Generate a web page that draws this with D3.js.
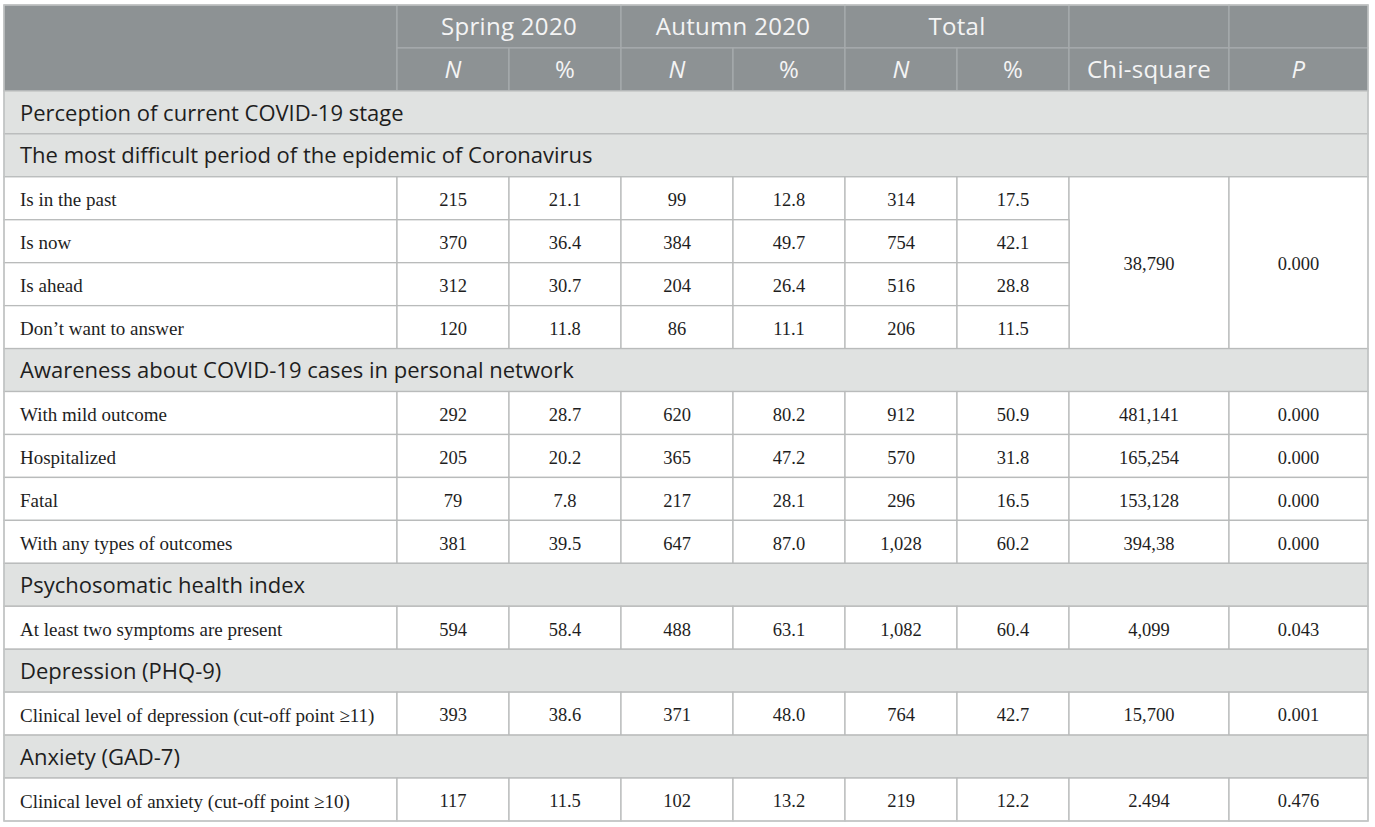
<!DOCTYPE html>
<html>
<head>
<meta charset="utf-8">
<script src="https://cdn.jsdelivr.net/npm/d3@7"></script>
<style>
  body { margin: 0; background: #fff; }
  svg { display: block; }
</style>
</head>
<body>
<div id="table"></div>
<script>
// column groups and sub headers
var groupHeaders = ["Spring 2020", "Autumn 2020", "Total"];
var subHeaders = ["N", "%", "N", "%", "N", "%", "Chi-square", "P"];

// section titles and how many data rows follow each one
var sectionTitles = [
    "Perception of current COVID-19 stage",
    "The most difficult period of the epidemic of Coronavirus",
    "Awareness about COVID-19 cases in personal network",
    "Psychosomatic health index",
    "Depression (PHQ-9)",
    "Anxiety (GAD-7)"
];
var sectionRowCounts = [0, 4, 4, 1, 1, 1];

var rowLabels = [
    "Is in the past", "Is now", "Is ahead", "Don\u2019t want to answer",
    "With mild outcome", "Hospitalized", "Fatal", "With any types of outcomes",
    "At least two symptoms are present",
    "Clinical level of depression (cut-off point \u226511)",
    "Clinical level of anxiety (cut-off point \u226510)"
];
var springN   = ["215", "370", "312", "120", "292", "205", "79", "381", "594", "393", "117"];
var springPct = ["21.1", "36.4", "30.7", "11.8", "28.7", "20.2", "7.8", "39.5", "58.4", "38.6", "11.5"];
var autumnN   = ["99", "384", "204", "86", "620", "365", "217", "647", "488", "371", "102"];
var autumnPct = ["12.8", "49.7", "26.4", "11.1", "80.2", "47.2", "28.1", "87.0", "63.1", "48.0", "13.2"];
var totalN    = ["314", "754", "516", "206", "912", "570", "296", "1,028", "1,082", "764", "219"];
var totalPct  = ["17.5", "42.1", "28.8", "11.5", "50.9", "31.8", "16.5", "60.2", "60.4", "42.7", "12.2"];
// chi-square and p: first value covers the four rows of its block
var chiSquare = ["38,790", null, null, null, "481,141", "165,254", "153,128", "394,38", "4,099", "15,700", "2.494"];
var pValues   = ["0.000", null, null, null, "0.000", "0.000", "0.000", "0.000", "0.043", "0.001", "0.476"];
var testSpan  = [4, 0, 0, 0, 1, 1, 1, 1, 1, 1, 1];

var W = 1375, H = 827;
var colWidths = [393, 112, 112, 112, 112, 112, 112, 160, 139];
var tableLeft = 4, tableTop = 5, tableBottom = 821;

var colEdges = [tableLeft].concat(Array.from(d3.cumsum(colWidths), function(d) { return tableLeft + d; }));
var nRows = 2 + sectionTitles.length + d3.sum(sectionRowCounts);
var y = d3.scaleLinear().domain([0, nRows]).range([tableTop, tableBottom]);

var headBg = "#8d9294", headLine = "#a7abad", headText = "#f4f4f4";
var secBg = "#e0e2e1", bodyLine = "#b9bbbb", bodyText = "#1e1e1e";

var svg = d3.select("#table").append("svg")
    .attr("width", W)
    .attr("height", H);

// build cell list
var cells = [];
// header row 1
cells.push({c0: 0, c1: 1, r0: 0, r1: 2, kind: "head", text: ""});
groupHeaders.forEach(function(g, i) {
    cells.push({c0: 1 + i * 2, c1: 3 + i * 2, r0: 0, r1: 1, kind: "head", text: g});
});
cells.push({c0: 7, c1: 8, r0: 0, r1: 1, kind: "head", text: ""});
cells.push({c0: 8, c1: 9, r0: 0, r1: 1, kind: "head", text: ""});
// header row 2
subHeaders.forEach(function(s, i) {
    cells.push({c0: 1 + i, c1: 2 + i, r0: 1, r1: 2, kind: "head", text: s,
        italic: (s === "N" || s === "P")});
});

var r = 2, di = 0;
sectionTitles.forEach(function(t, si) {
    cells.push({c0: 0, c1: 9, r0: r, r1: r + 1, kind: "sec", text: t});
    r++;
    for (var k = 0; k < sectionRowCounts[si]; k++) {
        var vals = [springN[di], springPct[di], autumnN[di], autumnPct[di], totalN[di], totalPct[di]];
        cells.push({c0: 0, c1: 1, r0: r, r1: r + 1, kind: "body", text: rowLabels[di], label: true});
        vals.forEach(function(v, j) {
            cells.push({c0: 1 + j, c1: 2 + j, r0: r, r1: r + 1, kind: "body", text: v});
        });
        if (testSpan[di] > 0) {
            cells.push({c0: 7, c1: 8, r0: r, r1: r + testSpan[di], kind: "body", text: chiSquare[di]});
            cells.push({c0: 8, c1: 9, r0: r, r1: r + testSpan[di], kind: "body", text: pValues[di]});
        }
        r++; di++;
    }
});

var g = svg.selectAll("g.cell")
    .data(cells)
    .enter().append("g")
    .attr("class", "cell");

g.append("rect")
    .attr("x", function(d) { return colEdges[d.c0]; })
    .attr("y", function(d) { return y(d.r0); })
    .attr("width", function(d) { return colEdges[d.c1] - colEdges[d.c0]; })
    .attr("height", function(d) { return y(d.r1) - y(d.r0); })
    .style("fill", function(d) { return d.kind === "head" ? headBg : (d.kind === "sec" ? secBg : "#fff"); })
    .style("stroke", function(d) { return d.kind === "head" ? headLine : bodyLine; })
    .style("stroke-width", 1.3);

g.append("text")
    .attr("x", function(d) {
        if (d.kind === "sec" || d.label) return colEdges[d.c0] + 16;
        return (colEdges[d.c0] + colEdges[d.c1]) / 2;
    })
    .attr("y", function(d) { return (y(d.r0) + y(d.r1)) / 2; })
    .attr("dy", function(d) { return d.kind === "body" ? "0.42em" : "0.37em"; })
    .style("text-anchor", function(d) { return (d.kind === "sec" || d.label) ? "start" : "middle"; })
    .style("font-family", function(d) { return d.kind === "body" ? "'Liberation Serif', serif" : "'Open Sans', sans-serif"; })
    .style("font-size", function(d) {
        if (d.kind === "body") return d.label ? "19px" : "18.5px";
        return d.kind === "sec" ? "22px" : "24px";
    })
    .style("letter-spacing", function(d) { return d.kind === "head" ? "0.3px" : "0px"; })
    .style("font-style", function(d) { return d.italic ? "italic" : "normal"; })
    .style("fill", function(d) { return d.kind === "head" ? headText : bodyText; })
    .text(function(d) { return d.text || ""; });

// outer frame
svg.append("rect")
    .attr("x", tableLeft)
    .attr("y", tableTop)
    .attr("width", colEdges[9] - tableLeft)
    .attr("height", tableBottom - tableTop)
    .style("fill", "none")
    .style("stroke", "#c4c6c6")
    .style("stroke-width", 1.3);
</script>
</body>
</html>
